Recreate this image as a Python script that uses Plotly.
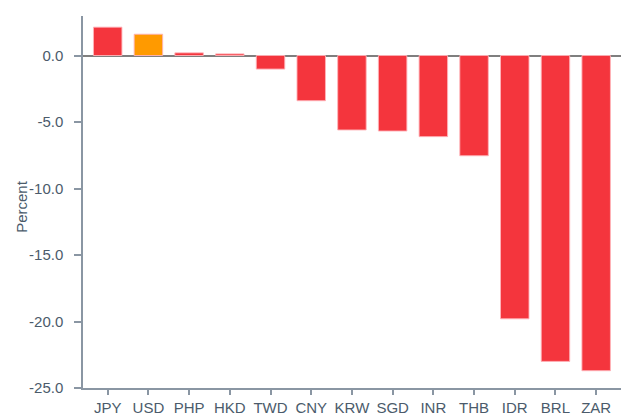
import plotly.graph_objects as go

categories = ["JPY", "USD", "PHP", "HKD", "TWD", "CNY", "KRW", "SGD", "INR", "THB", "IDR", "BRL", "ZAR"]
values = [2.13, 1.6, 0.2, 0.12, -1.02, -3.4, -5.6, -5.68, -6.1, -7.54, -19.8, -23.0, -23.7]
highlight = "USD"
y_title = "Percent"

red = "#F4353D"
orange = "#FF9A00"
colors = [orange if c == highlight else red for c in categories]

fig = go.Figure(
    go.Bar(
        x=categories,
        y=values,
        marker=dict(color=colors, line=dict(color="rgba(255,180,185,0.9)", width=1)),
        width=0.7,
    )
)

font_color = "#4B5B6B"
fs = 15
fig.update_layout(
    width=633,
    height=414,
    margin=dict(l=83, r=12, t=16, b=26, autoexpand=False),
    paper_bgcolor="white",
    plot_bgcolor="white",
    showlegend=False,
    font=dict(family="Liberation Sans, Arial, sans-serif", size=fs, color=font_color),
    xaxis=dict(
        range=[-0.607, 12.61],
        automargin=False,
        showline=True,
        linecolor="#8A96A3",
        linewidth=1.5,
        ticks="outside",
        ticklen=5,
        tickcolor="#8A96A3",
        tickwidth=1.5,
        showgrid=False,
        zeroline=False,
        tickfont=dict(size=fs, color=font_color),
    ),
    yaxis=dict(
        range=[-25, 2.97],
        automargin=False,
        tickvals=[0, -5, -10, -15, -20, -25],
        ticktext=["0.0", "-5.0", "-10.0", "-15.0", "-20.0", "-25.0"],
        showline=True,
        linecolor="#8A96A3",
        linewidth=1.5,
        ticks="outside",
        ticklen=7,
        ticklabelstandoff=8,
        tickcolor="#8A96A3",
        tickwidth=1.5,
        showgrid=False,
        zeroline=True,
        zerolinecolor="#7F7F7F",
        zerolinewidth=1.5,
        tickfont=dict(size=fs, color=font_color),
    ),
    annotations=[
        dict(
            text=y_title,
            xref="paper",
            yref="paper",
            x=(22 - 83) / 538,
            y=0.487,
            xanchor="center",
            yanchor="middle",
            textangle=-90,
            showarrow=False,
            font=dict(size=fs, color=font_color),
        )
    ],
)

fig.write_html(
    "out.html",
    config={"displayModeBar": False},
    post_script="document.body.style.margin='0';document.body.style.overflow='hidden';",
)
